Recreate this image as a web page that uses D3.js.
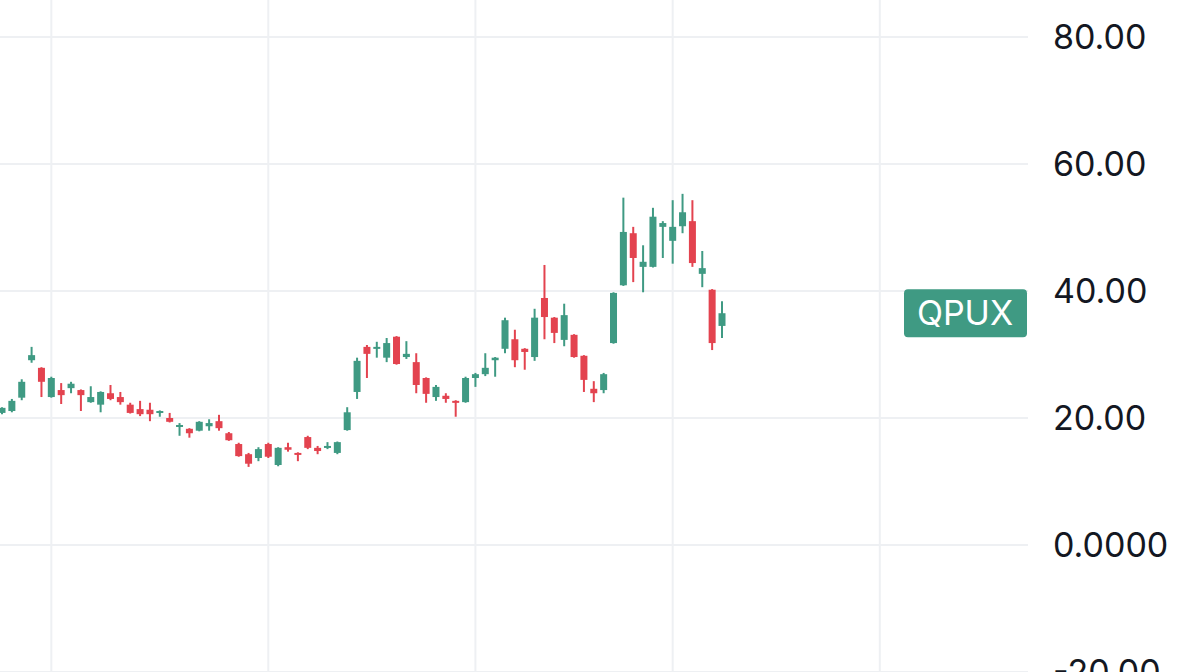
<!DOCTYPE html>
<html>
<head>
<meta charset="utf-8">
<script src="https://cdn.jsdelivr.net/npm/d3@7"></script>
<style>
  html, body { margin: 0; padding: 0; background: #fff; }
  svg { display: block; font-family: Inter, "Noto Sans", sans-serif; }
</style>
</head>
<body>
<svg id="chart" width="1200" height="672"></svg>
<script>
// Candle values, one entry per session
const opens = [20.8, 21.1, 23.2, 29.1, 27.9, 23.3, 24.4, 24.7, 24.4, 22.5,
  22.1, 23.9, 23.3, 22.1, 21.4, 21.3, 20.8, 20.0, 18.6, 18.3,
  18.0, 18.7, 19.5, 17.6, 15.9, 14.3, 13.7, 15.9, 12.6, 15.4,
  14.5, 17.0, 15.3, 15.3, 14.5, 18.1, 24.1, 31.2, 30.9, 29.5,
  32.8, 29.6, 28.8, 26.3, 23.3, 23.5, 22.7, 22.5, 26.3, 26.9,
  29.1, 30.9, 32.4, 30.9, 29.6, 38.9, 35.8, 32.3, 33.1, 29.8,
  24.6, 24.4, 31.8, 40.9, 49.1, 43.8, 43.8, 50.1, 47.9, 50.2,
  51.0, 42.7, 40.2, 34.5]
const highs = [21.7, 23.0, 26.1, 31.2, 28.0, 26.5, 25.5, 25.7, 24.5, 25.0,
  24.2, 25.2, 24.1, 22.4, 22.7, 22.4, 21.2, 20.8, 19.2, 18.4,
  19.5, 19.8, 20.5, 17.8, 16.1, 14.5, 15.4, 16.1, 15.4, 16.1,
  14.6, 17.2, 15.6, 16.2, 16.3, 21.7, 29.5, 31.5, 32.0, 32.6,
  32.9, 32.1, 30.2, 26.4, 25.2, 23.9, 22.8, 26.5, 27.1, 30.2,
  29.6, 35.8, 33.9, 31.0, 37.2, 44.1, 35.9, 38.0, 33.2, 29.9,
  25.8, 27.1, 39.8, 54.7, 50.1, 47.2, 53.1, 51.0, 54.3, 55.3,
  54.3, 46.3, 40.3, 38.4]
const lows = [20.6, 20.9, 22.8, 28.7, 23.3, 23.2, 22.2, 23.9, 21.1, 22.4,
  20.9, 22.8, 22.1, 20.7, 20.3, 19.5, 20.2, 19.3, 17.2, 16.9,
  17.9, 18.0, 18.0, 16.4, 13.9, 12.3, 13.2, 13.7, 12.4, 14.7,
  13.2, 15.1, 14.3, 15.1, 14.3, 18.0, 23.0, 26.3, 29.5, 28.8,
  28.4, 29.3, 23.9, 22.4, 22.7, 22.4, 20.2, 22.4, 24.9, 26.6,
  26.5, 30.2, 28.0, 27.6, 29.0, 32.4, 31.8, 31.3, 29.5, 24.1,
  22.5, 23.9, 31.7, 40.8, 41.4, 39.8, 43.7, 45.2, 44.3, 49.1,
  43.8, 40.6, 30.7, 32.6]
const closes = [21.6, 22.7, 25.7, 29.9, 25.7, 26.3, 23.6, 25.4, 23.6, 23.3,
  24.1, 23.0, 22.5, 20.8, 20.6, 20.6, 21.1, 19.4, 18.9, 17.6,
  19.4, 19.2, 18.4, 16.5, 14.0, 12.8, 15.1, 13.9, 15.3, 15.0,
  14.2, 15.3, 14.8, 15.6, 16.2, 20.9, 29.0, 30.1, 31.2, 31.8,
  28.5, 30.1, 25.2, 23.8, 24.9, 23.0, 22.4, 26.3, 26.9, 27.9,
  29.5, 35.4, 29.1, 30.4, 35.8, 35.9, 33.4, 36.2, 29.6, 26.0,
  23.9, 26.9, 39.7, 49.3, 45.2, 44.6, 51.7, 50.7, 50.1, 52.4,
  44.4, 43.6, 31.8, 36.5]

// Session index of each vertical grid line (month starts), last one is ahead of the data
const gridSessions = [5, 27, 48, 68, 89]

const priceTicks = [80, 60, 40, 20, 0, -20]
const priceLabels = ['80.00', '60.00', '40.00', '20.00', '0.0000', '-20.00']

const symbol = 'QPUX'

const width = 1200
const height = 672
const plotRight = 1028

const upColor = '#3f9a83'
const downColor = '#e3434f'

const candles = opens.map((o, i) => ({ i, o, h: highs[i], l: lows[i], c: closes[i] }))

const svg = d3.select('#chart')

const x = d3.scaleLinear()
  .domain([0, opens.length - 1])
  .range([2, 722])

const y = d3.scaleLinear()
  .domain([0, 80])
  .range([545, 37])

// Grid
const grid = svg.append('g')
  .attr('class', 'grid')

grid.selectAll('line.h')
  .data(priceTicks)
  .enter()
  .append('line')
  .attr('class', 'h')
  .attr('x1', 0)
  .attr('x2', plotRight)
  .attr('y1', d => y(d))
  .attr('y2', d => y(d))
  .style('stroke', '#eef0f3')
  .style('stroke-width', 2)

grid.selectAll('line.v')
  .data(gridSessions)
  .enter()
  .append('line')
  .attr('class', 'v')
  .attr('x1', d => x(d))
  .attr('x2', d => x(d))
  .attr('y1', 0)
  .attr('y2', height)
  .style('stroke', '#eef0f3')
  .style('stroke-width', 2)

// Candles
const bodyWidth = 7

const candle = svg.append('g')
  .attr('class', 'candles')
  .selectAll('g')
  .data(candles)
  .enter()
  .append('g')
  .style('fill', d => d.c >= d.o ? upColor : downColor)
  .style('stroke', d => d.c >= d.o ? upColor : downColor)

candle.append('line')
  .attr('x1', d => x(d.i))
  .attr('x2', d => x(d.i))
  .attr('y1', d => y(d.h))
  .attr('y2', d => y(d.l))
  .style('stroke-width', 2)

candle.append('rect')
  .attr('x', d => x(d.i) - bodyWidth / 2)
  .attr('width', bodyWidth)
  .attr('y', d => y(Math.max(d.o, d.c)))
  .attr('height', d => Math.max(2, Math.abs(y(d.o) - y(d.c))))
  .style('stroke', 'none')

// Price axis on the right
const axis = d3.axisRight(y)
  .tickValues(priceTicks)
  .tickSize(0)
  .tickPadding(0)
  .tickFormat((d, i) => priceLabels[i])

svg.append('g')
  .attr('class', 'axis axis-price')
  .attr('transform', 'translate(1053,0)')
  .call(axis)
  .call(g => g.select('.domain').remove())
  .call(g => g.selectAll('text')
    .attr('dy', '0.35em')
    .style('font-family', 'Inter, "Noto Sans", sans-serif')
    .style('font-size', '34px')
    .style('fill', '#131722'))

// Last price tag
const last = candles[candles.length - 1]
const tag = svg.append('g')
  .attr('class', 'last-tag')
  .attr('transform', 'translate(904,' + y(last.c) + ')')

tag.append('rect')
  .attr('x', 0)
  .attr('y', -24)
  .attr('width', 123)
  .attr('height', 48)
  .attr('rx', 4)
  .style('fill', last.c >= last.o ? upColor : downColor)

tag.append('text')
  .attr('x', 61)
  .attr('y', 0)
  .attr('dy', '0.35em')
  .attr('text-anchor', 'middle')
  .style('font-size', '34px')
  .style('fill', '#ffffff')
  .text(symbol)
</script>
</body>
</html>
